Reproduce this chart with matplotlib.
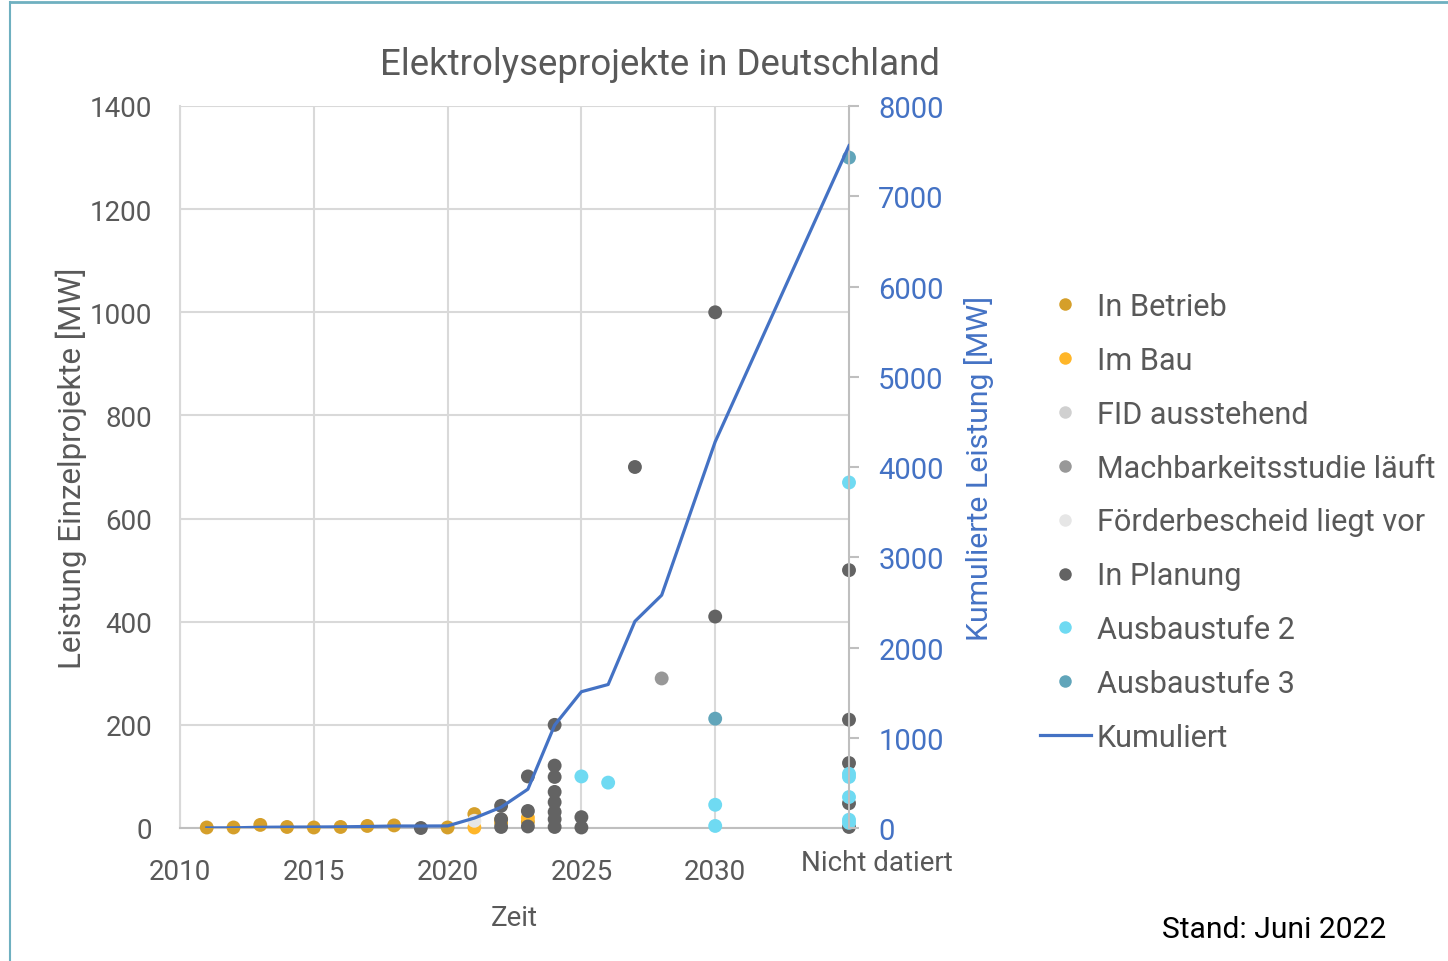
import numpy as np
import matplotlib.pyplot as plt
from matplotlib.lines import Line2D

plt.rcParams['font.family'] = ['Roboto', 'DejaVu Sans']

# Einzelprojekte (x = Jahr, 2035 = "Nicht datiert"), Leistung in MW
betrieb_x = [2011, 2012, 2013, 2014, 2015, 2016, 2017, 2018, 2020, 2021, 2022, 2023]
betrieb_y = [1, 1, 6, 2, 1, 2, 4, 5, 1, 27, 10, 12]

bau_x = [2021, 2022, 2023]
bau_y = [1, 16, 20]

fid_x = []
fid_y = []

machbar_x = [2028]
machbar_y = [290]

foerder_x = [2021]
foerder_y = [14]

planung_x = [2019, 2022, 2022, 2022, 2023, 2023, 2023,
             2024, 2024, 2024, 2024, 2024, 2024, 2024, 2024,
             2025, 2025, 2027, 2030, 2030,
             2035, 2035, 2035, 2035, 2035]
planung_y = [0, 43, 17, 2, 100, 33, 3,
             200, 121, 99, 70, 50, 31, 17, 2,
             21, 1, 700, 1000, 410,
             500, 210, 126, 48, 2]

stufe2_x = [2025, 2026, 2030, 2030, 2035, 2035, 2035, 2035, 2035, 2035]
stufe2_y = [100, 88, 45, 4, 670, 105, 99, 60, 16, 10]

stufe3_x = [2030, 2035]
stufe3_y = [212, 1300]

# Kumulierte Leistung (rechte Achse), MW
kum_x = [2011, 2012, 2013, 2014, 2015, 2016, 2017, 2018, 2019, 2020,
         2021, 2022, 2023, 2024, 2025, 2026, 2027, 2028, 2030, 2035]
kum_y = [1, 2, 8, 10, 11, 13, 17, 22, 22, 23,
         110, 230, 430, 1140, 1510, 1590, 2290, 2580, 4280, 7560]

grey_txt = '#595959'
blue = '#4472C4'

fig = plt.figure(figsize=(14.48, 9.62), dpi=100)
ax = fig.add_axes([180/1448, 1-829/962, (849-180)/1448, (829-107)/962])
ax2 = ax.twinx()

series = [
    (betrieb_x, betrieb_y, '#D59F2A', 'In Betrieb'),
    (bau_x, bau_y, '#FFB628', 'Im Bau'),
    (fid_x, fid_y, '#D0D0D0', 'FID ausstehend'),
    (machbar_x, machbar_y, '#989898', 'Machbarkeitsstudie läuft'),
    (foerder_x, foerder_y, '#E6E6E6', 'Förderbescheid liegt vor'),
    (planung_x, planung_y, '#636363', 'In Planung'),
    (stufe2_x, stufe2_y, '#6FDAF2', 'Ausbaustufe 2'),
    (stufe3_x, stufe3_y, '#61A5BA', 'Ausbaustufe 3'),
]
for xs, ys, col, lab in series:
    if len(xs):
        ax.scatter(xs, ys, s=100, color=col, edgecolors='none', zorder=3, clip_on=False)

ax2.plot(kum_x, kum_y, color=blue, lw=2.3, zorder=4)

ax.set_xlim(2010, 2035)
ax.set_ylim(0, 1400)
ax2.set_ylim(0, 8000)

ax.set_xticks([2010, 2015, 2020, 2025, 2030])
ax.set_yticks(np.arange(0, 1401, 200))
ax2.set_yticks(np.arange(0, 8001, 1000))

ax.grid(True, color='#D9D9D9', lw=1.5)
ax.set_axisbelow(True)
ax.tick_params(axis='both', length=0, labelsize=20, colors=grey_txt)
ax.tick_params(axis='x', pad=21.5)
ax.tick_params(axis='y', pad=20)
ax2.tick_params(axis='y', length=7, width=1.5, color='#BFBFBF', labelsize=21,
                labelcolor=blue, pad=14)

for s in ['top', 'right']:
    ax.spines[s].set_visible(False)
for s in ['top', 'left', 'bottom']:
    ax2.spines[s].set_visible(False)
ax.spines['left'].set_color('#D9D9D9')
ax.spines['left'].set_linewidth(1.5)
ax.spines['bottom'].set_color('#BFBFBF')
ax.spines['bottom'].set_linewidth(1.5)
ax2.spines['right'].set_color('#BFBFBF')
ax2.spines['right'].set_linewidth(1.5)

ax.text(2036.05, -0.048, 'Nicht datiert', transform=ax.get_xaxis_transform(),
        ha='center', va='center', fontsize=20, color=grey_txt)

ax.set_xlabel('Zeit', fontsize=20, color=grey_txt, labelpad=14)
ax.set_ylabel('Leistung Einzelprojekte [MW]', fontsize=22.5, color=grey_txt, labelpad=2)
ax2.set_ylabel('Kumulierte Leistung [MW]', fontsize=21.8, color=blue, labelpad=15)

fig.text(660/1448, 1-65/962, 'Elektrolyseprojekte in Deutschland',
         ha='center', va='center', fontsize=26.4, color=grey_txt)
fig.text(1162/1448, 1-930/962, 'Stand: Juni 2022', ha='left', va='center',
         fontsize=21.6, color='black')

handles = [Line2D([], [], ls='none', marker='o', ms=9, color=c, markeredgewidth=0)
           for _, _, c, _ in series]
handles.append(Line2D([], [], color=blue, lw=2.3))
labels = [lab for _, _, _, lab in series] + ['Kumuliert']
fig.legend(handles, labels, loc='upper left', bbox_to_anchor=(1040/1448, 1-293/962),
           frameon=False, fontsize=22.1, labelcolor=grey_txt, handlelength=1.65,
           handletextpad=0.2, labelspacing=0.81, borderaxespad=0, borderpad=0)

# Rahmen
fig.add_artist(plt.Line2D([10/1448, 10/1448], [0, 1-3/962], color='#6FB0C0', lw=1.5))
fig.add_artist(plt.Line2D([10/1448, 1], [1-3/962, 1-3/962], color='#6FB0C0', lw=2))

fig.savefig('out.png', dpi=100)
